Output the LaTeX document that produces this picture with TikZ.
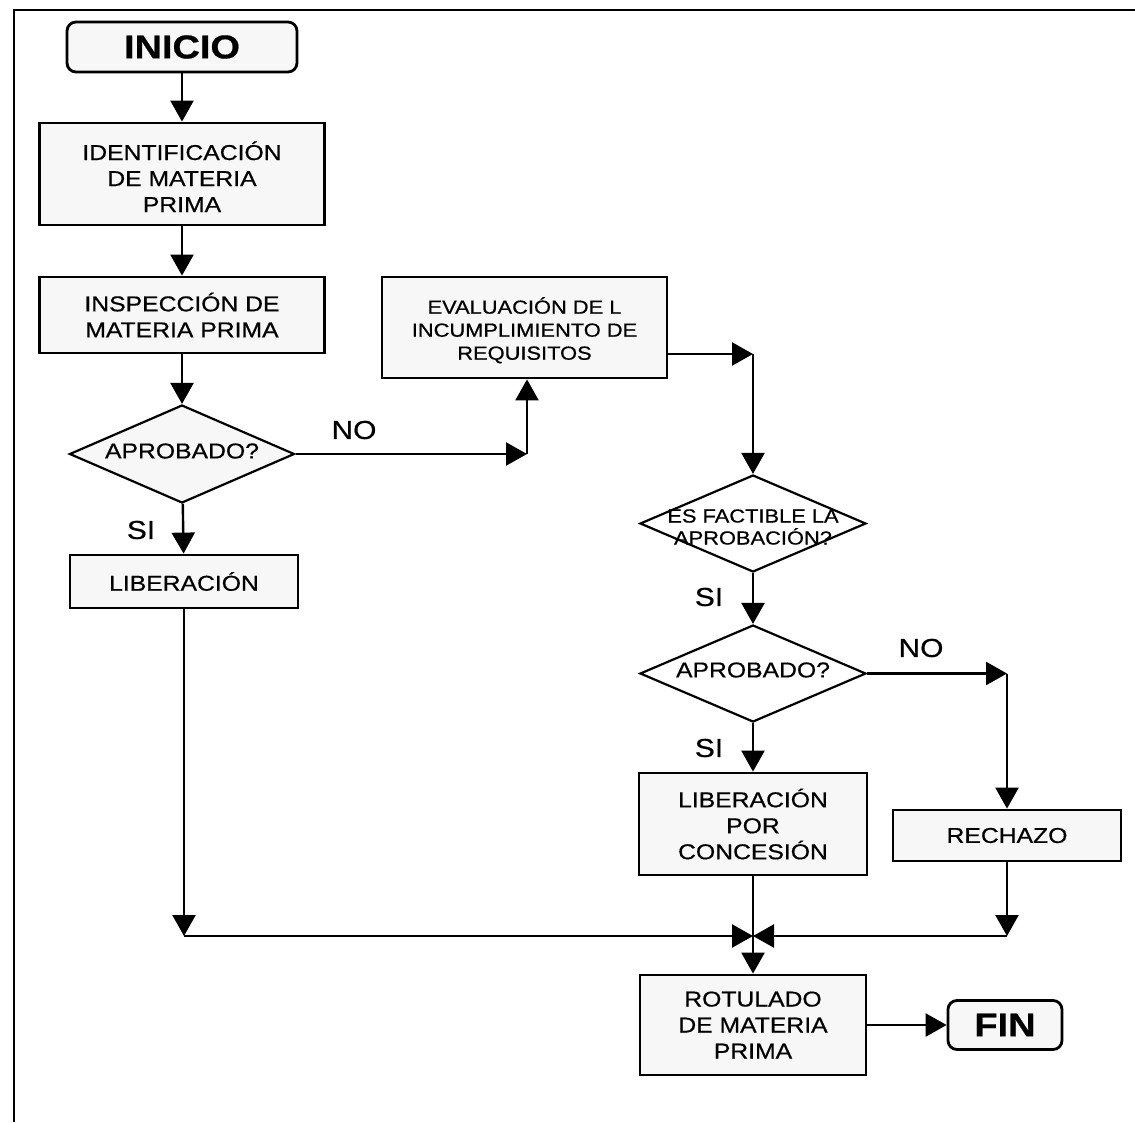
\documentclass[tikz,border=0pt]{standalone}
\usepackage{fontspec}
\setmainfont{Liberation Sans}[FakeStretch=1.15,FakeBold=0.6]
\usetikzlibrary{arrows.meta,shapes.geometric}
\begin{document}
\begin{tikzpicture}[x=1pt,y=-1pt,
  box/.style={draw, line width=2.8pt, fill=black!3, align=center,
    font=\fontsize{21.5}{26}\selectfont, inner sep=0pt},
  term/.style={box, rounded corners=9pt, font=\bfseries\fontsize{33}{38}\selectfont},
  decision/.style={diamond, draw, line width=2.2pt, fill=black!3, inner sep=0pt},
  txt/.style={align=center, font=\fontsize{21.5}{26}\selectfont, inner sep=0pt},
  lbl/.style={font=\fontsize{26}{30}\selectfont, inner sep=0pt},
  flow/.style={line width=2.4pt, -{Triangle[length=21pt,width=23pt]}}]

\useasboundingbox (0,0) rectangle (1135,1122);
\fill[white] (0,0) rectangle (1135,1122);

% outer frame
\draw[line width=2.2pt] (14,1122) -- (14,10) -- (1135,10);

% left column
\node[term, minimum width=230pt, minimum height=50pt] (inicio) at (182,47) {INICIO};
\node[box, minimum width=285pt, minimum height=102pt] (ident) at (182,174) {\rule{0pt}{24pt}IDENTIFICACIÓN\\DE MATERIA\\PRIMA};
\node[box, minimum width=285pt, minimum height=76pt] (insp) at (182,315) {INSPECCIÓN DE\\MATERIA PRIMA};
\node[decision, minimum width=225pt, minimum height=98pt] (apr1) at (182,454) {};
\node[txt] (apr1t) at (182,451) {APROBADO?};
\node[box, minimum width=228pt, minimum height=53pt] (lib) at (184,581.5) {LIBERACIÓN};

% evaluation branch
\node[box, minimum width=285pt, minimum height=101pt, font=\fontsize{19}{23}\selectfont] (eval) at (524.5,327.5) {\rule{0pt}{22pt}EVALUACIÓN DE L\\INCUMPLIMIENTO DE\\REQUISITOS};
\node[decision, minimum width=226pt, minimum height=97pt, fill=white] (fact) at (753,523.5) {};
\node[txt, font=\fontsize{19}{22}\selectfont] (factt) at (753,527) {ES FACTIBLE LA\\APROBACIÓN?};
\node[decision, minimum width=226pt, minimum height=97pt, fill=white] (apr2) at (753,673.5) {};
\node[txt] (apr2t) at (753,670) {APROBADO?};
\node[box, minimum width=228pt, minimum height=102pt] (conc) at (753,824) {LIBERACIÓN\\POR\\CONCESIÓN};
\node[box, minimum width=228pt, minimum height=51pt] (rech) at (1007,835.5) {RECHAZO};
\node[box, minimum width=226pt, minimum height=100pt] (rot) at (753,1025) {ROTULADO\\DE MATERIA\\PRIMA};
\node[term, minimum width=114pt, minimum height=49pt] (fin) at (1005,1025) {FIN};

% branch labels
\node[lbl] (no1) at (354,430) {NO};
\node[lbl] (si1) at (141,530) {SI};
\node[lbl] (si2) at (709,597) {SI};
\node[lbl] (no2) at (921,648) {NO};
\node[lbl] (si3) at (709,748) {SI};

% bend and merge points
\coordinate (c1) at (527,454);
\coordinate (c2) at (753,354);
\coordinate (c3) at (1007,673.5);
\coordinate (m) at (753,936);
\coordinate (c4) at (lib.south |- m);
\coordinate (c5) at (1007,936);

% connectors
\draw[flow] (inicio) -- (ident);
\draw[flow] (ident) -- (insp);
\draw[flow] (insp) -- (apr1);
\draw[flow] (apr1) -- (lib);
\draw[flow] (apr1.east) -- (c1);
\draw[flow] (c1) -- (c1 |- eval.south);
\draw[flow] (c2 -| eval.east) -- (c2);
\draw[flow] (c2) -- (fact.north);
\draw[flow] (fact) -- (apr2);
\draw[flow] (apr2.east) -- (c3);
\draw[flow] (c3) -- (rech);
\draw[flow] (apr2) -- (conc);
\draw[flow] (conc) -- (rot);
\draw[flow] (lib) -- (c4);
\draw[flow] (c4) -- (m);
\draw[flow] (rech) -- (c5);
\draw[flow] (c5) -- (m);
\draw[flow] (rot) -- (fin);
\end{tikzpicture}
\end{document}
